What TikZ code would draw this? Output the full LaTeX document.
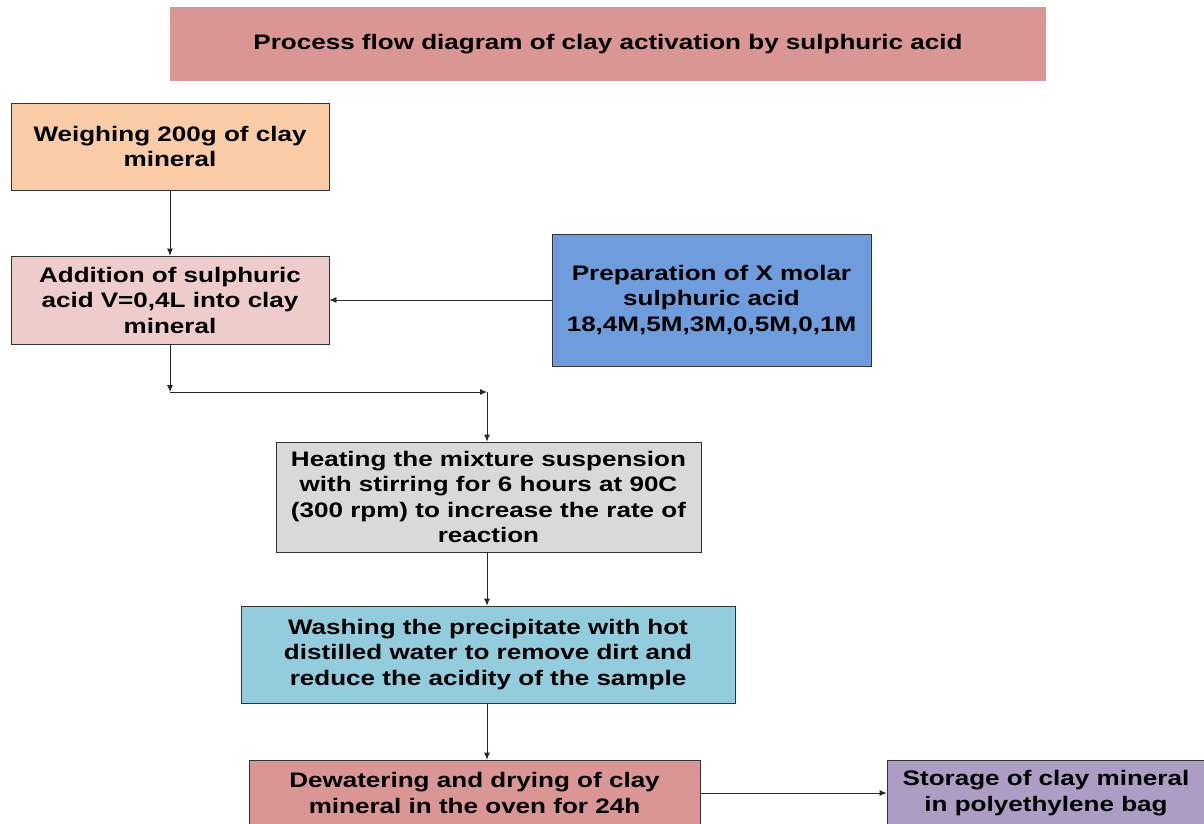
\documentclass[tikz,border=0pt]{standalone}
\usepackage{fontspec}
\setmainfont{Liberation Sans}[FakeStretch=1.24]
\usetikzlibrary{arrows.meta}
\definecolor{ctitle}{HTML}{D99694}
\definecolor{cweigh}{HTML}{F9CBA6}
\definecolor{cadd}{HTML}{EECCCB}
\definecolor{cprep}{HTML}{6F9CDC}
\definecolor{cheat}{HTML}{D9D9D9}
\definecolor{cwash}{HTML}{93CDDD}
\definecolor{cdew}{HTML}{D99694}
\definecolor{cstore}{HTML}{AD9DC5}
\tikzset{
  procbox/.style={draw=black!80, line width=0.8pt, rectangle, align=center, inner sep=0pt,
    font=\fontsize{21}{25.5}\selectfont\bfseries},
  flow/.style={draw=black!85, line width=0.8pt, -{Latex[length=7pt,width=6pt]}},
}
\begin{document}
\begin{tikzpicture}[x=1pt,y=-1pt]
\clip (0,0) rectangle (1204,823);
\fill[white] (0,0) rectangle (1204,823);
\node[procbox, draw=none, fill=ctitle, minimum width=876pt, minimum height=74pt] (title) at (608,44)
  {Process flow diagram of clay activation by sulphuric acid};
\node[procbox, fill=cweigh, minimum width=318pt, minimum height=87pt] (weigh) at (170,146.5)
  {Weighing 200g of clay\\mineral};
\node[procbox, fill=cadd, minimum width=318pt, minimum height=88pt] (add) at (170,300)
  {Addition of sulphuric\\acid V=0,4L into clay\\mineral};
\node[procbox, fill=cprep, minimum width=319pt, minimum height=132pt] (prep) at (711.5,300)
  {Preparation of X molar\\sulphuric acid\\18,4M,5M,3M,0,5M,0,1M};
\node[procbox, fill=cheat, minimum width=425pt, minimum height=110pt] (heat) at (488.5,497)
  {Heating the mixture suspension\\with stirring for 6 hours at 90C\\(300 rpm) to increase the rate of\\reaction};
\node[procbox, fill=cwash, minimum width=494pt, minimum height=97pt] (wash) at (488,654.5)
  {Washing the precipitate with hot\\distilled water to remove dirt and\\reduce the acidity of the sample};
\node[procbox, fill=cdew, minimum width=451pt, minimum height=66pt] (dew) at (474.5,793)
  {Dewatering and drying of clay\\mineral in the oven for 24h};
\node[procbox, fill=cstore, minimum width=318pt, minimum height=66pt] (store) at (1046,793)
  {Storage of clay mineral\\in polyethylene bag};
\coordinate (c1) at (170,392);
\coordinate (c2) at (487,392);
\draw[flow] (weigh.south) -- (add.north);
\draw[flow] (prep.west) -- (add.east);
\draw[flow] (add.south) -- (c1);
\draw[flow] (c1) -- (c2);
\draw[flow] (c2) -- (c2 |- heat.north);
\draw[flow] (c2 |- heat.south) -- (c2 |- wash.north);
\draw[flow] (c2 |- wash.south) -- (c2 |- dew.north);
\draw[flow] (dew.east) -- (store.west);
\end{tikzpicture}
\end{document}
